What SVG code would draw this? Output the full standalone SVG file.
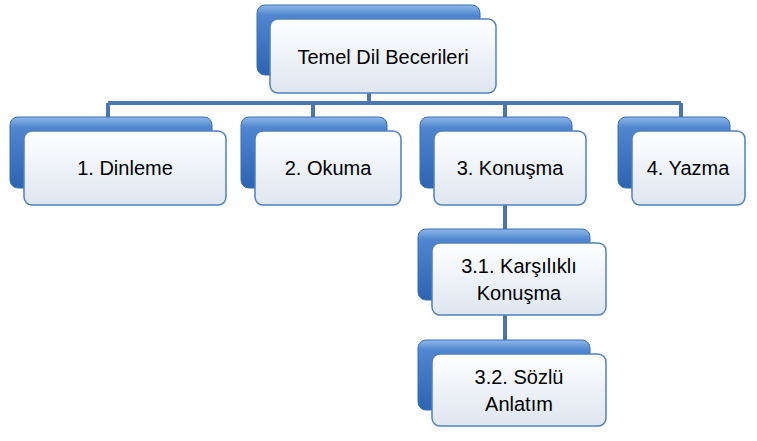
<svg xmlns="http://www.w3.org/2000/svg" width="757" height="441" viewBox="0 0 757 441">
<defs>
<linearGradient id="bg" x1="0" y1="0" x2="0" y2="1"><stop offset="0" stop-color="#8fb8ea"/><stop offset="0.15" stop-color="#4f86cf"/><stop offset="1" stop-color="#2d63b0"/></linearGradient>
<linearGradient id="fg" x1="0" y1="0" x2="0" y2="1"><stop offset="0" stop-color="#ffffff"/><stop offset="0.5" stop-color="#eef2f8"/><stop offset="1" stop-color="#dfe6f0"/></linearGradient>
</defs>
<style>
.b{fill:url(#bg);stroke:#3a6fb8;stroke-width:1}
.f{fill:url(#fg);stroke:#4f81bd;stroke-width:1.5}
.t{font-family:"Liberation Sans",Arial,sans-serif;font-size:20px;fill:#000;text-anchor:middle}
.c{stroke:#4a76ad;stroke-width:4;fill:none}
</style>
<g id="connectors">
<path class="c" d="M369 93V103M108 103H681M108 103V119M313 103V119M505 103V119M681 103V119M505 205V231M505 315V342"/>
</g>
<g id="n0"><rect class="b" x="257" y="5" width="223" height="70" rx="8"/><rect class="f" x="270" y="19" width="226" height="74" rx="8"/><text class="t" x="383" y="64">Temel Dil Becerileri</text></g>
<g id="n1"><rect class="b" x="10" y="117" width="202" height="71" rx="8"/><rect class="f" x="24" y="131" width="202" height="74" rx="8"/><text class="t" x="125" y="175">1. Dinleme</text></g>
<g id="n2"><rect class="b" x="241" y="117" width="146" height="71" rx="8"/><rect class="f" x="255" y="131" width="146" height="74" rx="8"/><text class="t" x="328" y="175">2. Okuma</text></g>
<g id="n3"><rect class="b" x="420" y="117" width="152" height="71" rx="8"/><rect class="f" x="434" y="131" width="152" height="74" rx="8"/><text class="t" x="510" y="175">3. Konuşma</text></g>
<g id="n4"><rect class="b" x="618" y="117" width="112" height="71" rx="8"/><rect class="f" x="632" y="131" width="113" height="74" rx="8"/><text class="t" x="688" y="175">4. Yazma</text></g>
<g id="n5"><rect class="b" x="418" y="229" width="172" height="71" rx="8"/><rect class="f" x="432" y="243" width="174" height="72" rx="8"/><text class="t" x="519" y="273">3.1. Karşılıklı</text><text class="t" x="519" y="300">Konuşma</text></g>
<g id="n6"><rect class="b" x="418" y="340" width="172" height="70" rx="8"/><rect class="f" x="432" y="354" width="174" height="72" rx="8"/><text class="t" x="519" y="384">3.2. Sözlü</text><text class="t" x="519" y="411">Anlatım</text></g>
</svg>
